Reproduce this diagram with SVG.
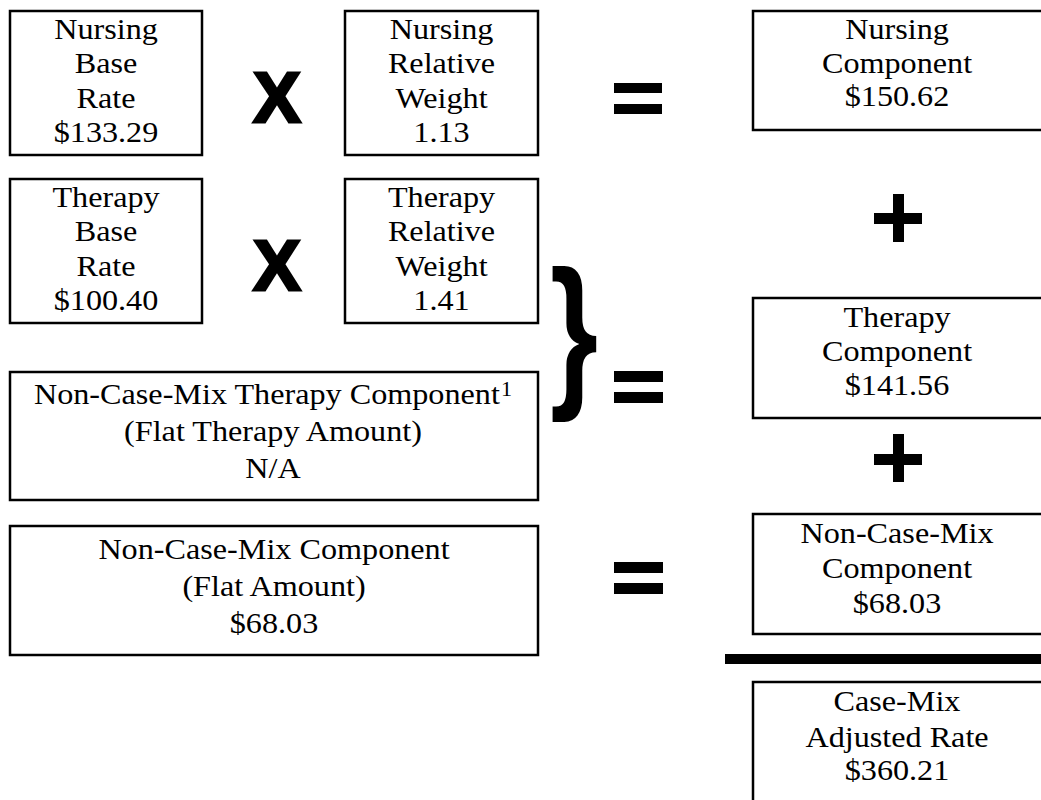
<svg xmlns="http://www.w3.org/2000/svg" width="1041" height="800" viewBox="0 0 1041 800">
<style>
.box{fill:#fff;stroke:#000;stroke-width:2.5}
.t{font-family:"Liberation Serif","Times New Roman",serif;font-size:29px;fill:#000;text-anchor:middle}
.sup{font-size:20px}
.op{fill:#000}
.x{font-family:"Liberation Sans",Arial,sans-serif;font-weight:bold;font-size:71px;fill:#000;stroke:#000;stroke-width:3;text-anchor:middle}
.brace{font-family:"Liberation Sans",Arial,sans-serif;font-weight:bold;font-size:167px;fill:#000;text-anchor:middle}
</style>
<rect width="1041" height="800" fill="#fff"/>

<g id="nursing-base-rate">
<rect class="box" x="10" y="11" width="192" height="144"/>
<g transform="translate(106 0) scale(1.11 1)">
<text class="t" x="0" y="39">Nursing</text>
<text class="t" x="0" y="73.5">Base</text>
<text class="t" x="0" y="108">Rate</text>
<text class="t" x="0" y="142">$133.29</text>
</g>
</g>

<g id="nursing-relative-weight">
<rect class="box" x="345" y="11" width="193" height="144"/>
<g transform="translate(441.5 0) scale(1.11 1)">
<text class="t" x="0" y="39">Nursing</text>
<text class="t" x="0" y="73.5">Relative</text>
<text class="t" x="0" y="108">Weight</text>
<text class="t" x="0" y="142">1.13</text>
</g>
</g>

<g id="nursing-component">
<rect class="box" x="753" y="11" width="300" height="119"/>
<g transform="translate(897 0) scale(1.11 1)">
<text class="t" x="0" y="39">Nursing</text>
<text class="t" x="0" y="73">Component</text>
<text class="t" x="0" y="106.5">$150.62</text>
</g>
</g>

<g id="therapy-base-rate">
<rect class="box" x="10" y="179" width="192" height="144"/>
<g transform="translate(106 0) scale(1.11 1)">
<text class="t" x="0" y="207">Therapy</text>
<text class="t" x="0" y="241.5">Base</text>
<text class="t" x="0" y="276">Rate</text>
<text class="t" x="0" y="310">$100.40</text>
</g>
</g>

<g id="therapy-relative-weight">
<rect class="box" x="345" y="179" width="193" height="144"/>
<g transform="translate(441.5 0) scale(1.11 1)">
<text class="t" x="0" y="207">Therapy</text>
<text class="t" x="0" y="241.5">Relative</text>
<text class="t" x="0" y="276">Weight</text>
<text class="t" x="0" y="310">1.41</text>
</g>
</g>

<g id="therapy-component">
<rect class="box" x="753" y="298" width="300" height="120"/>
<g transform="translate(897 0) scale(1.11 1)">
<text class="t" x="0" y="327">Therapy</text>
<text class="t" x="0" y="361.5">Component</text>
<text class="t" x="0" y="395">$141.56</text>
</g>
</g>

<g id="non-case-mix-therapy">
<rect class="box" x="10" y="372" width="528" height="128"/>
<g transform="translate(273 0) scale(1.11 1)">
<text class="t" x="0" y="404">Non-Case-Mix Therapy Component<tspan class="sup" dx="1" dy="-8">1</tspan></text>
<text class="t" x="0" y="441">(Flat Therapy Amount)</text>
<text class="t" x="0" y="478.5">N/A</text>
</g>
</g>

<g id="non-case-mix-flat">
<rect class="box" x="10" y="526" width="528" height="129"/>
<g transform="translate(274 0) scale(1.11 1)">
<text class="t" x="0" y="559">Non-Case-Mix Component</text>
<text class="t" x="0" y="596">(Flat Amount)</text>
<text class="t" x="0" y="633.5">$68.03</text>
</g>
</g>

<g id="non-case-mix-component">
<rect class="box" x="753" y="514" width="300" height="120"/>
<g transform="translate(897 0) scale(1.11 1)">
<text class="t" x="0" y="543">Non-Case-Mix</text>
<text class="t" x="0" y="578">Component</text>
<text class="t" x="0" y="613">$68.03</text>
</g>
</g>

<g id="case-mix-adjusted-rate">
<rect class="box" x="753" y="682" width="300" height="140"/>
<g transform="translate(897 0) scale(1.11 1)">
<text class="t" x="0" y="711">Case-Mix</text>
<text class="t" x="0" y="747">Adjusted Rate</text>
<text class="t" x="0" y="780">$360.21</text>
</g>
</g>

<g id="connectors">
<text class="x" x="277" y="122">X</text>
<text class="x" x="277" y="290">X</text>
<rect class="op" x="614" y="83" width="48" height="10"/>
<rect class="op" x="614" y="104" width="48" height="10"/>
<rect class="op" x="874" y="213" width="48" height="11"/>
<rect class="op" x="893" y="194" width="11" height="48"/>
<text class="brace" transform="translate(574 387) scale(0.74 1)" x="0" y="0">}</text>
<rect class="op" x="614" y="371" width="49" height="11"/>
<rect class="op" x="614" y="392" width="49" height="11"/>
<rect class="op" x="874" y="454" width="48" height="11"/>
<rect class="op" x="893" y="434" width="11" height="48"/>
<rect class="op" x="614" y="562" width="49" height="11"/>
<rect class="op" x="614" y="583" width="49" height="11"/>
<rect class="op" x="725" y="654" width="316" height="10"/>
</g>
</svg>
